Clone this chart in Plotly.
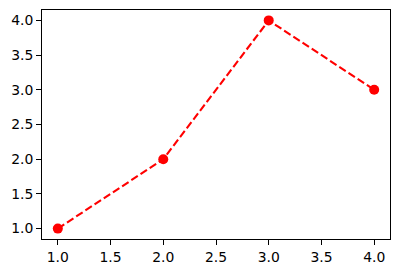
import plotly.graph_objects as go

x_vals = [1, 2, 3, 4]
y_vals = [1, 2, 4, 3]
tick_vals = [1.0, 1.5, 2.0, 2.5, 3.0, 3.5, 4.0]
tick_text = ["1.0", "1.5", "2.0", "2.5", "3.0", "3.5", "4.0"]

fig = go.Figure()
fig.add_trace(go.Scatter(
    x=x_vals, y=y_vals, mode="lines+markers",
    line=dict(color="#ff0000", width=2.1, dash="7.7px,3.3px"),
    marker=dict(color="#ff0000", size=10),
))

axis_common = dict(
    showgrid=False, zeroline=False, showline=True, linecolor="black", linewidth=1,
    mirror=True, ticks="outside", ticklen=4.9, tickwidth=1, tickcolor="black",
    tickfont=dict(family="DejaVu Sans", size=13.9, color="black"),
    tickvals=tick_vals, ticktext=tick_text,
)
fig.update_xaxes(range=[0.85, 4.15], **axis_common)
fig.update_yaxes(range=[0.85, 4.15], **axis_common)
fig.update_layout(
    width=400, height=274,
    margin=dict(l=42, r=9, t=9, b=34),
    plot_bgcolor="white", paper_bgcolor="white",
    showlegend=False,
)
fig.write_html("out.html")
